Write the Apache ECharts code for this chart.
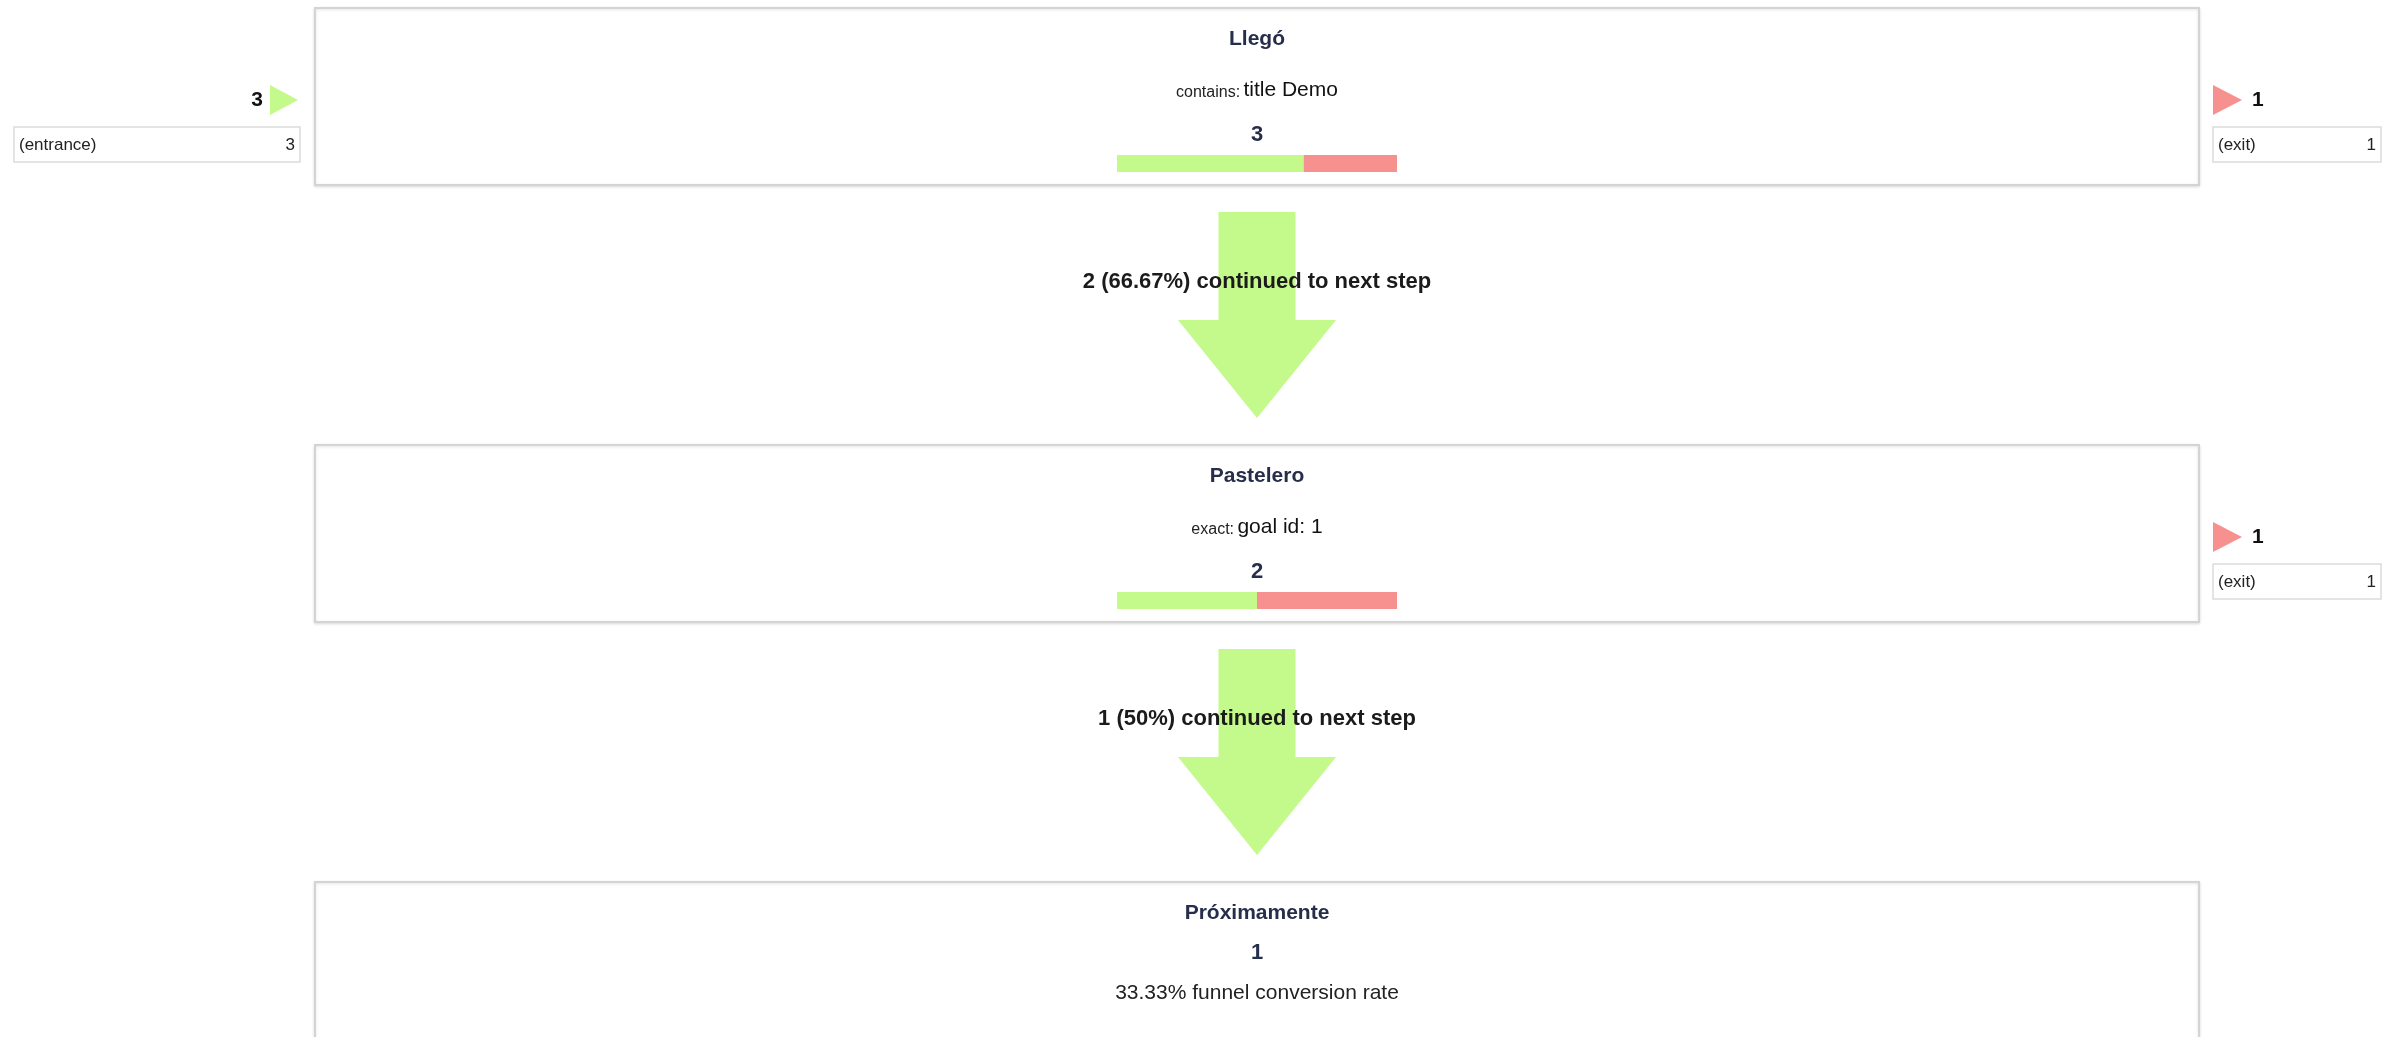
<!DOCTYPE html>
<html>
<head>
<meta charset="utf-8">
<script src="https://cdn.jsdelivr.net/npm/echarts@6/dist/echarts.min.js"></script>
<style>
  html, body { margin: 0; padding: 0; background: #ffffff; }
  #chart { width: 2396px; height: 1037px; }
</style>
</head>
<body>
<div id="chart"></div>
<script>
// ---------------- data ----------------
const steps = ['Llegó', 'Pastelero', 'Próximamente'];
const patternTypes = ['contains:', 'exact:', ''];
const patternValues = ['title Demo', 'goal id: 1', ''];
const visits = [3, 2, 1];
const proceeded = [2, 1, 0];
const entries = [3, 0, 0];
const exits = [1, 1, 0];
const entranceLabel = '(entrance)';
const exitLabel = '(exit)';
const continuedText = 'continued to next step';
const conversionText = 'funnel conversion rate';

// ---------------- style / layout ----------------
const FONT = '"Liberation Sans", Arial, Helvetica, sans-serif';
const GREEN = '#c4f98b';
const RED = '#f7918f';
const NAVY = '#262e4b';
const ROW = 437;
const L = {
  boxH: 177, barW: 280, barY: 147, barH: 17,
  shaftW: 77, headW: 158, shaftTop: 204, headTop: 312, tip: 410, arrowText: 274
};

function pct(a, b) { return parseFloat((a / b * 100).toFixed(2)) + '%'; }

function renderItem(params, api) {
  const i = api.value(1);
  const p0 = api.coord([0, i]);
  const p1 = api.coord([1, i]);
  const x0 = p0[0], x1 = p1[0], y0 = p0[1];
  const cx = (x0 + x1) / 2;
  const last = i === steps.length - 1;
  const ch = [];

  // arrow to next step (drawn first so text sits above)
  if (!last) {
    const sw = L.shaftW / 2, hw = L.headW / 2;
    ch.push({
      type: 'polygon',
      shape: { points: [
        [cx - sw, y0 + L.shaftTop], [cx + sw, y0 + L.shaftTop], [cx + sw, y0 + L.headTop],
        [cx + hw, y0 + L.headTop], [cx, y0 + L.tip], [cx - hw, y0 + L.headTop], [cx - sw, y0 + L.headTop]
      ] },
      style: { fill: GREEN }
    });
    ch.push({
      type: 'text',
      style: {
        text: proceeded[i] + ' (' + pct(proceeded[i], visits[i]) + ') ' + continuedText,
        x: cx, y: y0 + L.arrowText, align: 'center', verticalAlign: 'middle',
        font: 'bold 22px ' + FONT, fill: '#1b1b1b'
      }
    });
  }

  // step box
  ch.push({
    type: 'rect',
    shape: { x: x0, y: y0, width: x1 - x0, height: L.boxH },
    style: { fill: '#ffffff', stroke: '#d4d4d4', lineWidth: 2,
             shadowBlur: 3, shadowOffsetY: 1, shadowColor: 'rgba(0,0,0,0.12)' }
  });
  ch.push({
    type: 'text',
    style: { text: steps[i], x: cx, y: y0 + 31, align: 'center', verticalAlign: 'middle',
             font: 'bold 21px ' + FONT, fill: NAVY }
  });

  if (!last) {
    ch.push({
      type: 'text',
      style: {
        text: '{a|' + patternTypes[i] + '} {b|' + patternValues[i] + '}',
        x: cx, y: y0 + 82, align: 'center', verticalAlign: 'middle',
        rich: {
          a: { fontFamily: FONT, fontSize: 16, lineHeight: 16, verticalAlign: 'bottom', fill: '#222' },
          b: { fontFamily: FONT, fontSize: 21, lineHeight: 21, verticalAlign: 'bottom', fill: '#111' }
        },
        fill: '#222'
      }
    });
    ch.push({
      type: 'text',
      style: { text: String(visits[i]), x: cx, y: y0 + 127, align: 'center', verticalAlign: 'middle',
               font: 'bold 22px ' + FONT, fill: NAVY }
    });
    const g = L.barW * proceeded[i] / visits[i];
    const bx = cx - L.barW / 2;
    ch.push({ type: 'rect', shape: { x: bx, y: y0 + L.barY, width: g, height: L.barH }, style: { fill: GREEN } });
    ch.push({ type: 'rect', shape: { x: bx + g, y: y0 + L.barY, width: L.barW - g, height: L.barH }, style: { fill: RED } });
  } else {
    ch.push({
      type: 'text',
      style: { text: String(visits[i]), x: cx, y: y0 + 71, align: 'center', verticalAlign: 'middle',
               font: 'bold 22px ' + FONT, fill: NAVY }
    });
    ch.push({
      type: 'text',
      style: { text: pct(visits[i], visits[0]) + ' ' + conversionText, x: cx, y: y0 + 111,
               align: 'center', verticalAlign: 'middle', font: '21px ' + FONT, fill: '#222' }
    });
  }

  // entrance widget
  if (entries[i] > 0) {
    ch.push({
      type: 'text',
      style: { text: String(entries[i]), x: x0 - 52, y: y0 + 92, align: 'right', verticalAlign: 'middle',
               font: 'bold 21px ' + FONT, fill: '#111' }
    });
    ch.push({
      type: 'polygon',
      shape: { points: [[x0 - 45, y0 + 77], [x0 - 17, y0 + 92], [x0 - 45, y0 + 107]] },
      style: { fill: GREEN }
    });
    ch.push({
      type: 'rect',
      shape: { x: x0 - 301, y: y0 + 119, width: 286, height: 35 },
      style: { fill: '#fff', stroke: '#dcdcdc', lineWidth: 1.5 }
    });
    ch.push({
      type: 'text',
      style: { text: entranceLabel, x: x0 - 296, y: y0 + 137, align: 'left', verticalAlign: 'middle',
               font: '17px ' + FONT, fill: '#222' }
    });
    ch.push({
      type: 'text',
      style: { text: String(entries[i]), x: x0 - 20, y: y0 + 137, align: 'right', verticalAlign: 'middle',
               font: '17px ' + FONT, fill: '#222' }
    });
  }

  // exit widget
  if (!last && exits[i] > 0) {
    ch.push({
      type: 'polygon',
      shape: { points: [[x1 + 14, y0 + 77], [x1 + 43, y0 + 92], [x1 + 14, y0 + 107]] },
      style: { fill: RED }
    });
    ch.push({
      type: 'text',
      style: { text: String(exits[i]), x: x1 + 53, y: y0 + 92, align: 'left', verticalAlign: 'middle',
               font: 'bold 21px ' + FONT, fill: '#111' }
    });
    ch.push({
      type: 'rect',
      shape: { x: x1 + 14, y: y0 + 119, width: 168, height: 35 },
      style: { fill: '#fff', stroke: '#dcdcdc', lineWidth: 1.5 }
    });
    ch.push({
      type: 'text',
      style: { text: exitLabel, x: x1 + 19, y: y0 + 137, align: 'left', verticalAlign: 'middle',
               font: '17px ' + FONT, fill: '#222' }
    });
    ch.push({
      type: 'text',
      style: { text: String(exits[i]), x: x1 + 177, y: y0 + 137, align: 'right', verticalAlign: 'middle',
               font: '17px ' + FONT, fill: '#222' }
    });
  }

  return { type: 'group', children: ch };
}

const chart = echarts.init(document.getElementById('chart'), null, { renderer: 'canvas' });
chart.setOption({
  animation: false,
  backgroundColor: '#ffffff',
  grid: { left: 315, right: 197, top: 8, height: ROW * (steps.length - 1) },
  xAxis: { type: 'value', min: 0, max: 1, show: false },
  yAxis: { type: 'value', min: 0, max: steps.length - 1, inverse: true, show: false },
  series: [{
    type: 'custom',
    coordinateSystem: 'cartesian2d',
    clip: false,
    renderItem: renderItem,
    encode: { x: 0, y: 1 },
    data: steps.map((s, i) => [0.5, i])
  }]
});
</script>
</body>
</html>
